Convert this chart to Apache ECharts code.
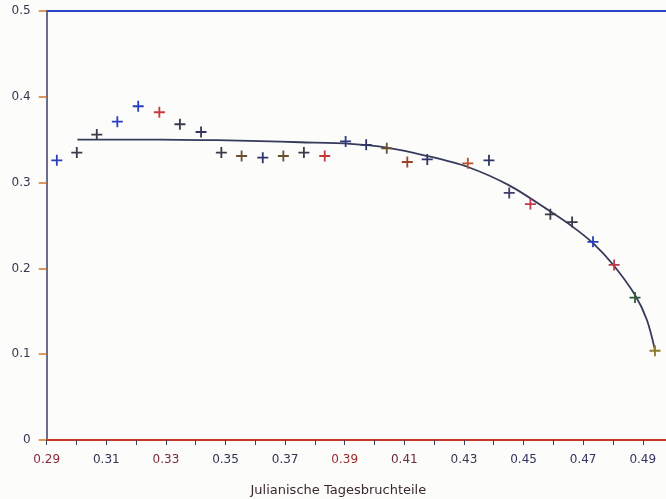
<!DOCTYPE html>
<html>
<head>
<meta charset="utf-8">
<script src="https://cdn.jsdelivr.net/npm/echarts@6/dist/echarts.min.js"></script>
<style>
  html, body { margin: 0; padding: 0; background: #fcfcfa; }
  #chart { width: 666px; height: 499px; }
</style>
</head>
<body>
<div id="chart"></div>
<script>
// Observed brightness (crosses) against the fraction of the Julian day
const obsDay = [
  0.2934, 0.3001, 0.3068, 0.3137, 0.3207, 0.3278, 0.3347, 0.3418, 0.3486,
  0.3554, 0.3625, 0.3694, 0.3763, 0.3833, 0.3903, 0.3972, 0.4041, 0.4110,
  0.4177, 0.4313, 0.4384, 0.4452, 0.4523, 0.4590, 0.4663, 0.4733, 0.4804,
  0.4874, 0.4941
];
const obsValue = [
  0.326, 0.335, 0.356, 0.371, 0.389, 0.382, 0.368, 0.359, 0.335,
  0.331, 0.329, 0.331, 0.335, 0.331, 0.348, 0.344, 0.340, 0.324,
  0.327, 0.3225, 0.326, 0.288, 0.275, 0.263, 0.254, 0.231, 0.204,
  0.166, 0.104
];

// Fitted light curve
const fitDay = [
  0.3003, 0.3146, 0.3280, 0.3471, 0.3616, 0.3750, 0.3918, 0.4041, 0.4177,
  0.4313, 0.4455, 0.4589, 0.4663, 0.4733, 0.4800, 0.4874, 0.4914, 0.4941
];
const fitValue = [
  0.3500, 0.3502, 0.3502, 0.3494, 0.3483, 0.3470, 0.3452, 0.3408, 0.3310,
  0.3182, 0.2962, 0.2665, 0.2490, 0.2295, 0.2045, 0.1690, 0.1399, 0.1049
];

const xTicks = { min: 0.29, max: 0.4978, step: 0.01 };
const yTicks = { min: 0, max: 0.5, step: 0.1 };

// Ink colours of the individual crosses
const crossTint = [
  '#2a3fc0', '#3a3a48', '#3a3a48', '#2a3fc0', '#2a3fc0', '#c83a3a', '#3a3a48', '#33365a', '#3a3a48',
  '#6a5030', '#2f3566', '#6a5030', '#3a3a48', '#c23a3a', '#2f3a80', '#2f3566', '#6a5030', '#a0402e',
  '#2f3566', '#b8502a', '#2f3566', '#453a70', '#c03a4a', '#3a3a48', '#3a3a48', '#2a3fc0', '#b83a4a',
  '#2f5a3a', '#8a7a2a'
];
const xLabelTint = ['#8a2a3a', '#2f3550', '#7a2a3a', '#2f3550', '#2f3550', '#9a2a2a', '#6a2a3a', '#3a3550', '#2f3560', '#2f3560', '#2f3560'];

const cross = 'path://M4.6,0H6.4V4.6H11V6.4H6.4V11H4.6V6.4H0V4.6H4.6Z';

const chart = echarts.init(document.getElementById('chart'), null, { renderer: 'canvas' });

chart.setOption({
  backgroundColor: '#fcfcfa',
  animation: false,
  grid: { left: 46.7, right: 0, top: 11, bottom: 59, containLabel: false, outerBoundsMode: 'none' },
  xAxis: [
    {
      type: 'value',
      position: 'bottom',
      min: xTicks.min,
      max: xTicks.max,
      interval: xTicks.step,
      name: 'Julianische Tagesbruchteile',
      nameLocation: 'middle',
      nameGap: 44,
      nameTextStyle: { color: '#3a2a30', fontSize: 13, fontFamily: 'DejaVu Sans', padding: [0, 36, 0, 0] },
      axisLine: { show: true, onZero: false, lineStyle: { color: '#c63a2a', width: 2 } },
      axisTick: { show: true, length: 5, lineStyle: { color: '#404050', width: 1 } },
      axisLabel: {
        show: true,
        margin: 14,
        fontSize: 12,
        fontFamily: 'DejaVu Sans',
        showMaxLabel: false,
        formatter: function (v) {
          const k = Math.round(v * 100);
          return (k % 2 === 1) ? v.toFixed(2) : '';
        },
        color: function (v) {
          const k = Math.round(v * 100);
          const i = Math.max(0, Math.min(xLabelTint.length - 1, Math.round((k - 29) / 2)));
          return xLabelTint[i];
        }
      },
      splitLine: { show: false }
    },
    {
      type: 'value',
      position: 'top',
      min: xTicks.min,
      max: xTicks.max,
      axisLine: { show: true, onZero: false, lineStyle: { color: '#2b44c8', width: 2 } },
      axisTick: { show: false },
      axisLabel: { show: false },
      splitLine: { show: false }
    }
  ],
  yAxis: {
    type: 'value',
    min: yTicks.min,
    max: yTicks.max,
    interval: yTicks.step,
    axisLine: { show: true, onZero: false, lineStyle: { color: '#3a3f66', width: 1.5 } },
    axisTick: { show: true, length: 8, lineStyle: { color: '#cf7a2a', width: 1.5 } },
    axisLabel: {
      fontSize: 12,
      fontFamily: 'DejaVu Sans',
      margin: 16,
      color: function (v) { return v === 0 ? '#2a3fc0' : '#3a3550'; },
      formatter: function (v) { return v === 0 ? '0' : String(Math.round(v * 10) / 10); }
    },
    splitLine: { show: false }
  },
  series: [
    {
      type: 'line',
      xAxisIndex: 0,
      data: fitDay.map((d, i) => [d, fitValue[i]]),
      smooth: 0.3,
      showSymbol: false,
      symbol: 'none',
      lineStyle: { color: '#363a5c', width: 1.8 },
      z: 2
    },
    {
      type: 'scatter',
      xAxisIndex: 0,
      data: obsDay.map((d, i) => [d, obsValue[i]]),
      symbol: cross,
      symbolSize: 11,
      itemStyle: {
        color: function (p) { return crossTint[p.dataIndex]; },
        opacity: 1
      },
      z: 3
    }
  ]
});
</script>
</body>
</html>
